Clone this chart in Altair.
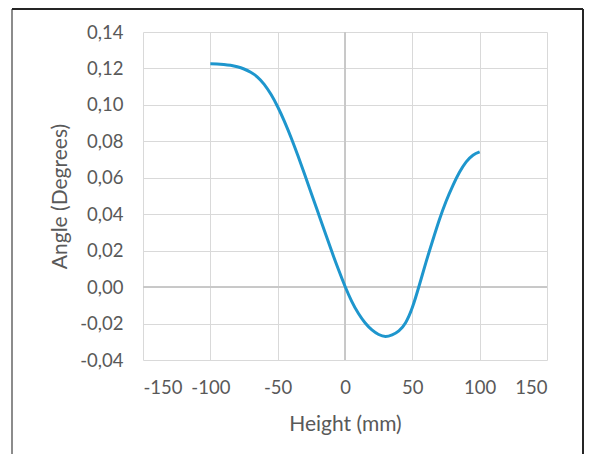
import altair as alt
import pandas as pd

height_mm = [-100, -95, -90, -85, -80, -75, -70, -65, -60, -55, -50, -45, -40, -35, -30, -25, -20, -15, -10, -5,
             0, 5, 10, 15, 20, 25, 30, 35, 40, 45, 50, 55, 60, 65, 70, 75, 80, 85, 90, 95, 100]
angle_deg = [0.1226, 0.1225, 0.1222, 0.1217, 0.1209, 0.1197, 0.1179, 0.1153, 0.1113, 0.1058, 0.0990, 0.0910,
             0.0820, 0.0722, 0.0619, 0.0514, 0.0409, 0.0304, 0.0199, 0.0099,
             0.0005, -0.0078, -0.0145, -0.0197, -0.0235, -0.0260, -0.0271, -0.0262, -0.0240, -0.0195,
             -0.0112, 0.0006, 0.0133, 0.0253, 0.0368, 0.0470, 0.0556, 0.0630, 0.0687, 0.0724, 0.0742]

x_ticks = [-150, -100, -50, 0, 50, 100, 150]
y_ticks = [-0.04, -0.02, 0.0, 0.02, 0.04, 0.06, 0.08, 0.10, 0.12, 0.14]

df = pd.DataFrame({"h": height_mm, "a": angle_deg})

FONT = "Lato"
TXT = "#595959"

x_scale = alt.Scale(domain=[-150, 150], nice=False)
y_scale = alt.Scale(domain=[-0.04, 0.14], nice=False, zero=False)
x_axis = alt.Axis(values=x_ticks, title="Height (mm)",
                  labelExpr="replace(format(datum.value, 'd'), '\u2212', '-')",
                  labelPadding=18, titlePadding=17, labelOverlap=False)
y_axis = alt.Axis(values=y_ticks, title="Angle (Degrees)",
                  labelExpr="replace(replace(format(datum.value, '.2f'), '.', ','), '\u2212', '-')",
                  labelPadding=20, titlePadding=9, labelOverlap=False)

x_enc = alt.X("h:Q", scale=x_scale, axis=x_axis)
y_enc = alt.Y("a:Q", scale=y_scale, axis=y_axis)

zero_v = alt.Chart(df).mark_rule(color="#c8c8c8", strokeWidth=1).encode(
    x=alt.XDatum(0, scale=x_scale, axis=x_axis))
zero_h = alt.Chart(df).mark_rule(color="#c8c8c8", strokeWidth=1).encode(
    y=alt.YDatum(0, scale=y_scale, axis=y_axis))

line = alt.Chart(df).mark_line(color="#1E96CD", strokeWidth=3, interpolate="natural").encode(x=x_enc, y=y_enc)

frame_left = alt.Chart(df).mark_rule(color="#8c8c8c", strokeWidth=2).encode(
    x=alt.value(-131), y=alt.value(-23), y2=alt.value(600))
frame_top = alt.Chart(df).mark_rule(color="#262626", strokeWidth=1.5).encode(
    x=alt.value(-131), x2=alt.value(440), y=alt.value(-23))
frame_right = alt.Chart(df).mark_rule(color="#262626", strokeWidth=1.5).encode(
    x=alt.value(440), y=alt.value(-23), y2=alt.value(600))

chart = alt.layer(zero_v, zero_h, line, frame_left, frame_top, frame_right).properties(
    width=404, height=328,
    autosize=alt.AutoSizeParams(type="none"),
    padding={"left": 135, "top": 24, "right": 37, "bottom": 94},
    background="white",
).configure_view(stroke=None).configure_axis(
    grid=True, gridColor="#d9d9d9", gridWidth=1,
    domain=False, ticks=False,
    labelFont=FONT, labelFontSize=18.5, labelColor=TXT,
    titleFont=FONT, titleFontSize=21, titleColor=TXT, titleFontWeight="normal",
)

chart.save("out.html", embed_options={"renderer": "svg", "actions": False})
